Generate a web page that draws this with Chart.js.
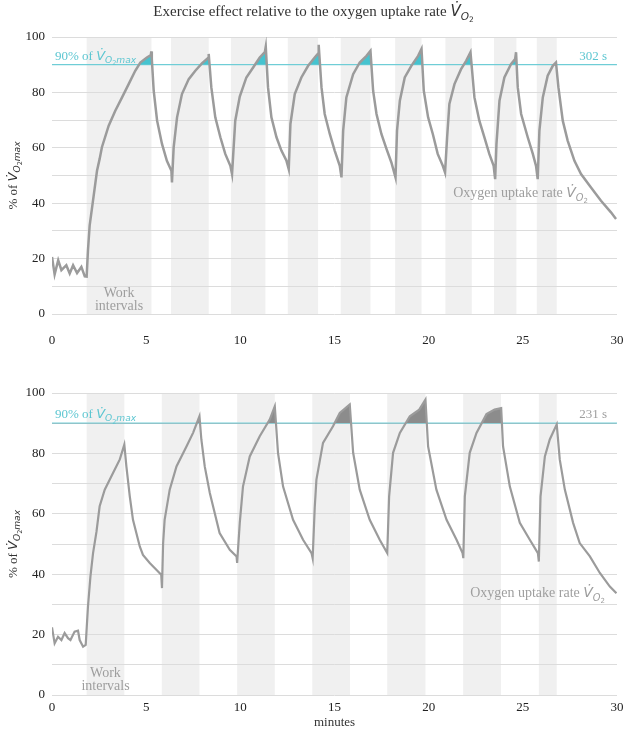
<!DOCTYPE html>
<html>
<head>
<meta charset="utf-8">
<script src="https://cdn.jsdelivr.net/npm/chart.js@4/dist/chart.umd.min.js"></script>
<style>
    html, body { margin: 0; padding: 0; background: #fff; }
    #wrap { position: relative; width: 627px; height: 730px; }
    canvas { position: absolute; left: 0; }
</style>
</head>
<body>
<div id="wrap">
    <canvas id="topChart" width="627" height="365" style="top:0"></canvas>
    <canvas id="bottomChart" width="627" height="365" style="top:365px"></canvas>
</div>
<script>
// Dữ liệu: thời gian (phút) và % VO2max
const topTime = [
    0, 0.14, 0.33, 0.5, 0.76, 0.94, 1.12, 1.33, 1.56, 1.74, 1.84,
    1.91, 2.0, 2.16, 2.39, 2.53, 2.65, 3.01, 3.36, 3.72, 4.07, 4.42, 4.69, 5.04, 5.25, 5.27,
    5.3, 5.4, 5.58, 5.84, 6.1, 6.34, 6.37,
    6.46, 6.64, 6.9, 7.26, 7.61, 7.96, 8.3, 8.32,
    8.46, 8.67, 8.94, 9.2, 9.47, 9.56,
    9.73, 9.97, 10.32, 10.68, 11.03, 11.3, 11.35,
    11.47, 11.65, 11.92, 12.18, 12.45, 12.57,
    12.66, 12.89, 13.24, 13.6, 13.95, 14.13, 14.16,
    14.31, 14.48, 14.75, 15.01, 15.28, 15.37,
    15.46, 15.63, 15.99, 16.34, 16.7, 16.91,
    17.05, 17.23, 17.49, 17.76, 18.02, 18.24,
    18.32, 18.47, 18.73, 19.08, 19.44, 19.62,
    19.74, 19.97, 20.22, 20.48, 20.75, 20.87,
    20.98, 21.1, 21.37, 21.72, 21.99, 22.22,
    22.43, 22.69, 22.96, 23.22, 23.45, 23.53,
    23.6, 23.76, 24.02, 24.37, 24.59, 24.64,
    24.73, 24.91, 25.26, 25.53, 25.7, 25.79,
    25.88, 26.06, 26.32, 26.59, 26.76,
    26.89, 27.12, 27.38, 27.74, 28.09, 28.62, 29.15, 29.68, 29.95
];
const topVO2 = [
    20.6, 14.3, 19.4, 15.8, 17.6, 14.6, 17.6, 14.8, 17, 13.6, 13.5,
    23, 32, 40, 51.7, 56, 60.2, 68, 73.4, 78.2, 83, 87.8, 90.8, 92.6, 93.5, 94.8,
    92, 80.6, 69.8, 61.4, 55.3, 51.7, 47.5,
    60.2, 71, 79.4, 84.8, 87.8, 90.5, 92.5, 93.9,
    81.8, 71, 63.8, 57.8, 53.5, 50.5,
    69.8, 78.5, 85.4, 89, 92.6, 94.5, 96.5,
    81.8, 71, 63.8, 59, 55.3, 52.3,
    68.6, 79.4, 85.4, 89.6, 92.6, 94, 97.2,
    81.8, 72.2, 65, 59, 53.5, 49.3,
    66.2, 78.2, 86.6, 90.8, 93.2, 95,
    80.6, 72.2, 65, 59.6, 54.7, 49.3,
    66.2, 77, 85.4, 89.6, 93.2, 95.7,
    80.6, 71, 65, 57.8, 53.5, 51.1,
    63.8, 75.8, 83, 88.4, 91.4, 94.5,
    78.2, 69.8, 63.8, 57.8, 53.5, 48.7,
    61.4, 77, 85.4, 90.2, 92, 94.5,
    81.8, 72.2, 63.8, 57.8, 53.5, 48.7,
    66.2, 78.2, 86, 89.6, 90.8,
    81.8, 69.8, 62.6, 55.3, 50.5, 45.7, 40.9, 36.7, 34.3
];
const bottomTime = [
    0, 0.14, 0.32, 0.5, 0.67, 0.85, 0.98, 1.2, 1.38, 1.47, 1.65, 1.79,
    1.91, 2.04, 2.18, 2.36, 2.53, 2.8, 3.24, 3.6, 3.84,
    3.95, 4.13, 4.3, 4.66, 4.83, 5.19, 5.54, 5.8, 5.84,
    5.9, 5.98, 6.25, 6.61, 7.14, 7.49, 7.83,
    7.93, 8.11, 8.38, 8.9, 9.44, 9.8, 9.83,
    9.97, 10.14, 10.5, 11.03, 11.56, 11.83,
    12.0, 12.27, 12.8, 13.33, 13.78, 13.84,
    13.95, 14.04, 14.39, 14.92, 15.28, 15.81,
    15.99, 16.34, 16.87, 17.4, 17.8,
    17.9, 18.11, 18.47, 19.0, 19.5, 19.83,
    19.97, 20.41, 20.95, 21.48, 21.8, 21.84,
    21.92, 22.18, 22.54, 23.07, 23.5, 23.85,
    23.95, 24.31, 24.84, 25.37, 25.8, 25.85,
    25.94, 26.17, 26.43, 26.8,
    26.96, 27.23, 27.67, 28.02, 28.56, 29.09, 29.62, 29.97
];
const bottomVO2 = [
    22.4, 17.1, 19.3, 18.2, 20.5, 18.8, 18.2, 21, 21.3, 18.2, 16, 16.6,
    29.3, 39.2, 47, 54, 62.5, 68, 73.5, 78, 82.9,
    75.7, 65.8, 58, 49.2, 46.4, 43.7, 41.5, 39.8, 35.4,
    50.3, 58, 68, 75.7, 82.3, 86.8, 92.3,
    84.6, 75.7, 66.9, 53.6, 48.1, 45.9, 43.7,
    57, 69, 79, 85.7, 91.2, 95.6,
    80.2, 69, 58, 51.4, 47, 45.3,
    62, 71.3, 83.5, 89, 93.4, 96.2,
    80.2, 68, 58, 51.4, 47,
    65.8, 80.2, 86.8, 92.3, 94.5, 97.8,
    82.3, 68, 58, 51.4, 47, 45.3,
    65.8, 80.2, 86.8, 93, 94.5, 95,
    82.3, 69, 57, 51.4, 47, 44.2,
    65.8, 79, 84.6, 89.6,
    78, 68, 57, 50.3, 45.9, 40.4, 35.9, 33.7
];

// Khoảng thời gian làm việc (vùng xám)
const topWorkStart = [1.84, 6.32, 9.5, 12.52, 15.33, 18.22, 20.89, 23.47, 25.74];
const topWorkEnd = [5.28, 8.32, 11.33, 14.13, 16.91, 19.62, 22.29, 24.66, 26.8];
const bottomWorkStart = [1.84, 5.83, 9.83, 13.82, 17.8, 21.83, 25.85];
const bottomWorkEnd = [3.84, 7.83, 11.83, 15.82, 19.83, 23.84, 26.8];

const threshold = 90;
const topSecondsAbove = "302 s";
const bottomSecondsAbove = "231 s";
const xTicks = [0, 5, 10, 15, 20, 25, 30];
const yTicks = [0, 20, 40, 60, 80, 100];

const SERIF = '"Liberation Serif", "DejaVu Serif", serif';
const MATH = '"DejaVu Sans"';
const CYAN = "#5cc6d1";
const GRAY_TEXT = "#9e9e9e";

// Vẽ chuỗi chữ có chỉ số dưới (V̇O2max)
function richWidth(ctx, parts) {
    let w = 0;
    parts.forEach(p => { ctx.font = p[1]; w += ctx.measureText(p[0]).width; });
    return w;
}
function drawRich(ctx, parts, x, y, align) {
    const w = richWidth(ctx, parts);
    let cx = align === "right" ? x - w : align === "center" ? x - w / 2 : x;
    parts.forEach(p => {
        ctx.font = p[1];
        ctx.fillText(p[0], cx, y + (p[2] || 0));
        cx += ctx.measureText(p[0]).width;
    });
}
function vo2Parts(size, withMax) {
    const parts = [
        ["V\u0307", "italic " + size + "px " + MATH, 0],
        ["O", "italic " + (size * 0.7) + "px " + MATH, size * 0.25],
        ["2", (size * 0.5) + "px " + MATH, size * 0.42]
    ];
    if (withMax) parts.push(["max", "italic " + (size * 0.7) + "px " + MATH, size * 0.25]);
    return parts;
}
function textParts(str, size) {
    return [[str, size + "px " + SERIF, 0]];
}

const bandsPlugin = {
    id: "bands",
    beforeDraw(chart, args, opts) {
        const { ctx, chartArea, scales: { x } } = chart;
        ctx.save();
        ctx.fillStyle = "#f0f0f0";
        opts.starts.forEach((s, i) => {
            const x0 = x.getPixelForValue(s);
            const x1 = x.getPixelForValue(opts.ends[i]);
            ctx.fillRect(x0, chartArea.top, x1 - x0, chartArea.bottom - chartArea.top);
        });
        ctx.restore();
    }
};

const labelsPlugin = {
    id: "labels",
    afterDraw(chart, args, opts) {
        const { ctx, chartArea, scales: { x, y } } = chart;
        ctx.save();
        ctx.textBaseline = "alphabetic";
        const yLine = y.getPixelForValue(threshold) - 5;

        // Nhãn 90% VO2max
        ctx.fillStyle = CYAN;
        drawRich(ctx, textParts("90% of ", 13).concat(vo2Parts(13, true)), chartArea.left + 3, yLine, "left");

        // Số giây trên ngưỡng
        ctx.fillStyle = opts.secondsColor;
        drawRich(ctx, textParts(opts.seconds, 13), chartArea.right - 10, yLine, "right");

        // Work intervals
        ctx.fillStyle = GRAY_TEXT;
        const bx = x.getPixelForValue((opts.workStart + opts.workEnd) / 2);
        drawRich(ctx, textParts("Work", 14), bx, opts.workY, "center");
        drawRich(ctx, textParts("intervals", 14), bx, opts.workY + 13, "center");

        // Oxygen uptake rate
        drawRich(ctx, textParts("Oxygen uptake rate ", 14).concat(vo2Parts(14, false)),
            chartArea.right - opts.oxyRight, opts.oxyY, "right");

        // Tiêu đề trục Y (xoay)
        ctx.fillStyle = "#333";
        ctx.translate(17, (chartArea.top + chartArea.bottom) / 2);
        ctx.rotate(-Math.PI / 2);
        drawRich(ctx, textParts("% of ", 13).concat(vo2Parts(13, true)), 0, 0, "center");
        ctx.restore();

        if (opts.title) {
            ctx.save();
            ctx.fillStyle = "#333";
            drawRich(ctx, textParts("Exercise effect relative to the oxygen uptake rate ", 15).concat(vo2Parts(15, false)),
                chart.width / 2, 16, "center");
            ctx.restore();
        }
    }
};

function makeChart(id, times, values, fillColor, cfg) {
    const points = times.map((t, i) => ({ x: t, y: values[i] }));
    return new Chart(document.getElementById(id), {
        type: "line",
        data: {
            datasets: [
                {
                    data: points,
                    borderColor: "#9b9b9b",
                    borderWidth: cfg.lineWidth,
                    pointRadius: 0,
                    tension: 0,
                    fill: { target: { value: threshold }, above: fillColor, below: "rgba(0,0,0,0)" }
                },
                {
                    data: [{ x: 0, y: threshold }, { x: 30, y: threshold }],
                    borderColor: "#79cfd8",
                    borderWidth: 1.3,
                    pointRadius: 0,
                    fill: false
                }
            ]
        },
        options: {
            responsive: false,
            animation: false,
            layout: { padding: { top: cfg.top, right: 10, left: 0, bottom: 0 } },
            plugins: {
                legend: { display: false },
                tooltip: { enabled: false },
                bands: { starts: cfg.starts, ends: cfg.ends },
                labels: cfg.labels
            },
            scales: {
                x: {
                    type: "linear",
                    min: 0,
                    max: 30,
                    afterBuildTicks: s => { s.ticks = xTicks.map(v => ({ value: v })); },
                    ticks: { padding: 0, color: "#222", font: { family: SERIF, size: 13 } },
                    grid: {
                        display: true,
                        drawOnChartArea: false,
                        drawTicks: true,
                        tickLength: cfg.xPad,
                        tickColor: "rgba(0,0,0,0)"
                    },
                    border: { display: false },
                    title: {
                        display: cfg.showMinutes,
                        text: "minutes",
                        color: "#333",
                        font: { family: SERIF, size: 13 },
                        padding: { top: 0, bottom: 0 }
                    },
                    afterFit: s => { s.height = cfg.xHeight; }
                },
                y: {
                    min: 0,
                    max: 100,
                    afterBuildTicks: s => {
                        const t = [];
                        for (let v = 0; v <= 100; v += 10) t.push({ value: v });
                        s.ticks = t;
                    },
                    ticks: {
                        autoSkip: false,
                        padding: 7,
                        color: "#222",
                        font: { family: SERIF, size: 13 },
                        callback: v => (yTicks.includes(v) ? v : "")
                    },
                    grid: { color: "#dcdcdc", lineWidth: 1, drawTicks: false },
                    border: { display: false },
                    afterFit: s => { s.width = 52; }
                }
            }
        },
        plugins: [bandsPlugin, labelsPlugin]
    });
}

document.addEventListener("DOMContentLoaded", () => {
    makeChart("topChart", topTime, topVO2, "#45c3cf", {
        lineWidth: 2.5,
        top: 37,
        xHeight: 51,
        xPad: 19,
        showMinutes: false,
        starts: topWorkStart,
        ends: topWorkEnd,
        labels: {
            title: true,
            seconds: topSecondsAbove,
            secondsColor: CYAN,
            workStart: topWorkStart[0],
            workEnd: topWorkEnd[0],
            workY: 297,
            oxyRight: 29,
            oxyY: 197
        }
    });
    makeChart("bottomChart", bottomTime, bottomVO2, "#8c8c8c", {
        lineWidth: 2.2,
        top: 28,
        xHeight: 35,
        xPad: 5,
        showMinutes: true,
        starts: bottomWorkStart,
        ends: bottomWorkEnd,
        labels: {
            title: false,
            seconds: bottomSecondsAbove,
            secondsColor: GRAY_TEXT,
            workStart: bottomWorkStart[0],
            workEnd: bottomWorkEnd[0],
            workY: 312,
            oxyRight: 12,
            oxyY: 232
        }
    });
});
</script>
</body>
</html>
